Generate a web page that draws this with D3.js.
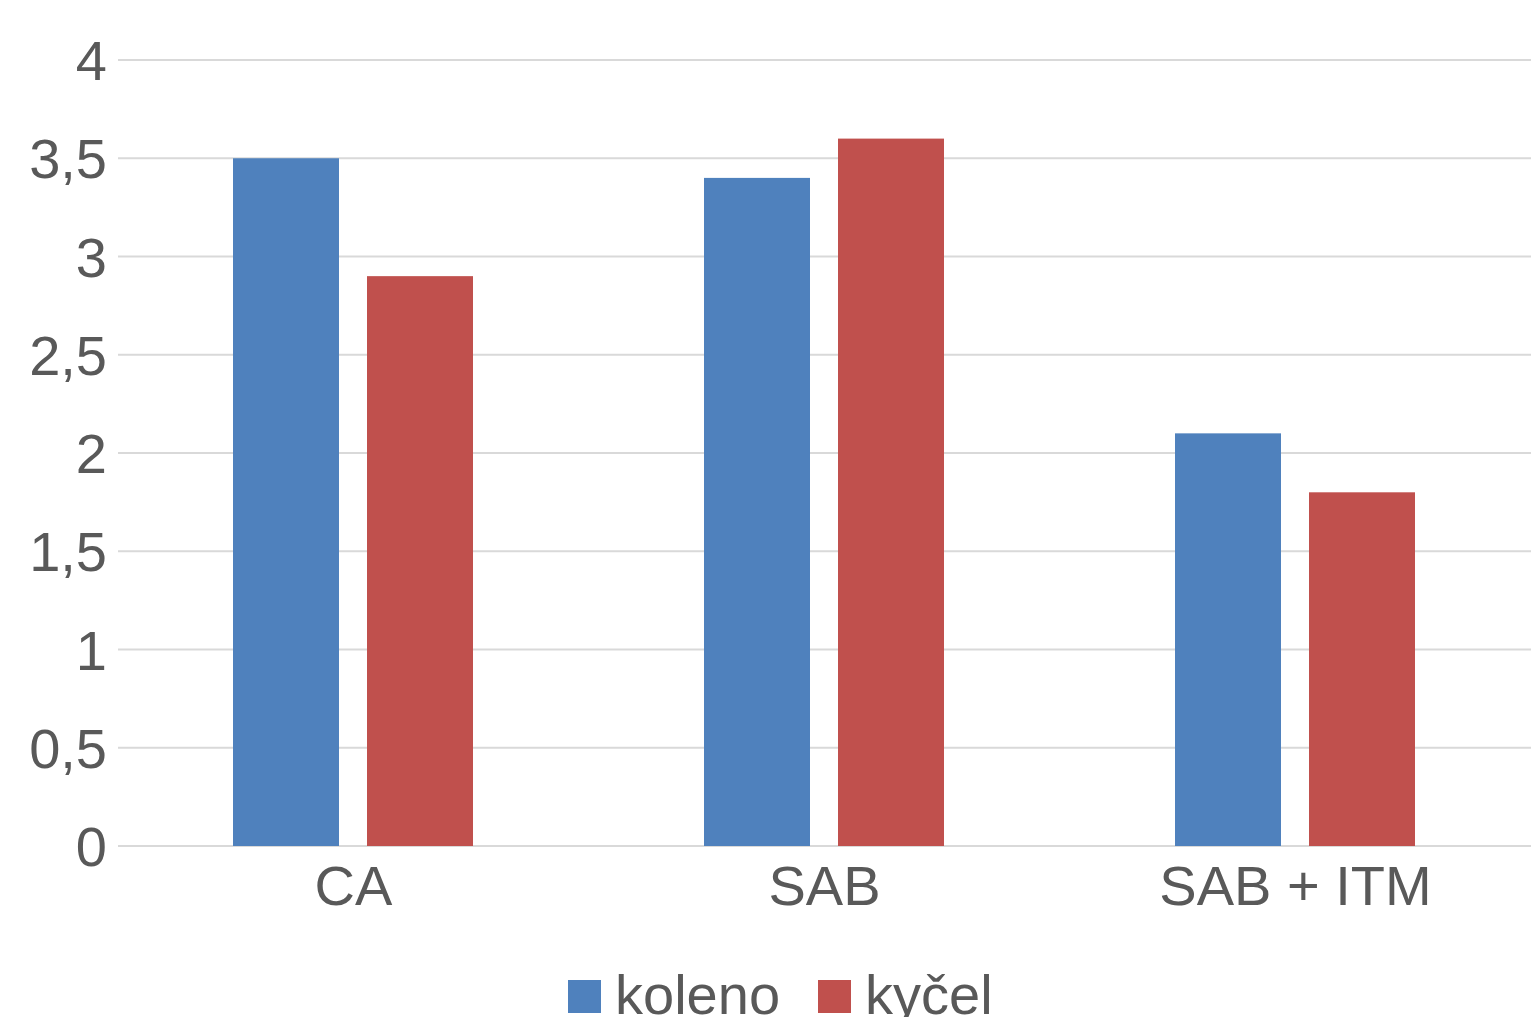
<!DOCTYPE html>
<html>
<head>
<meta charset="utf-8">
<script src="https://cdn.jsdelivr.net/npm/d3@7"></script>
<style>
  html, body { margin: 0; padding: 0; background: #fff; }
  svg { display: block; }
  text { font-family: "Liberation Sans", Arial, sans-serif; fill: #595959; }
</style>
</head>
<body>
<svg id="chart" width="1531" height="1017"></svg>
<script>
const categories = ["CA", "SAB", "SAB + ITM"];
const seriesNames = ["koleno", "kyčel"];
const koleno = [3.5, 3.4, 2.1];
const kycel = [2.9, 3.6, 1.8];
const yTicks = [0, 0.5, 1, 1.5, 2, 2.5, 3, 3.5, 4];
const colors = ["#4f81bd", "#c0504d"];

const seriesValues = [koleno, kycel];
const rows = categories.map((c, i) => ({
  category: c,
  values: seriesNames.map((s, j) => ({ series: s, value: seriesValues[j][i], color: colors[j] }))
}));

const svg = d3.select("#chart");
const plotLeft = 118, plotRight = 1531, plotTop = 60, plotBottom = 846;

const x = d3.scaleBand().domain(categories).range([plotLeft, plotRight]).padding(0);
const xInner = d3.scaleBand().domain(seriesNames).range([115, 355]).paddingInner(28 / 134).paddingOuter(0);
const y = d3.scaleLinear().domain([0, 4]).range([plotBottom, plotTop]);

const locale = d3.formatLocale({ decimal: ",", thousands: " ", grouping: [3], currency: ["", ""] });
const fmt = locale.format("~g");

// horizontal gridlines
svg.append("g")
  .selectAll("line")
  .data(yTicks)
  .join("line")
  .attr("x1", plotLeft).attr("x2", plotRight)
  .attr("y1", d => y(d)).attr("y2", d => y(d))
  .attr("stroke", "#d9d9d9").attr("stroke-width", 2);

// y-axis labels
svg.append("g")
  .selectAll("text")
  .data(yTicks)
  .join("text")
  .attr("x", 107)
  .attr("y", d => y(d) + 20)
  .attr("text-anchor", "end")
  .style("font-size", "56px")
  .text(d => fmt(d));

// bars
const groups = svg.append("g")
  .selectAll("g")
  .data(rows)
  .join("g")
  .attr("transform", d => `translate(${x(d.category)},0)`);

groups.selectAll("rect")
  .data(d => d.values)
  .join("rect")
  .attr("x", d => xInner(d.series))
  .attr("width", xInner.bandwidth())
  .attr("y", d => y(d.value))
  .attr("height", d => y(0) - y(d.value))
  .attr("fill", d => d.color);

// category labels
svg.append("g")
  .selectAll("text")
  .data(categories)
  .join("text")
  .attr("x", d => x(d) + x.bandwidth() / 2)
  .attr("y", 905)
  .attr("text-anchor", "middle")
  .style("font-size", "56px")
  .text(d => d);

// legend
const legendX = [568, 818];
const legend = svg.append("g")
  .selectAll("g")
  .data(seriesNames)
  .join("g")
  .attr("transform", (d, i) => `translate(${legendX[i]},0)`);
legend.append("rect")
  .attr("x", 0).attr("y", 980)
  .attr("width", 33).attr("height", 33)
  .attr("fill", (d, i) => colors[i]);
legend.append("text")
  .attr("x", 47).attr("y", 1014)
  .style("font-size", "56px")
  .text(d => d);
</script>
</body>
</html>
